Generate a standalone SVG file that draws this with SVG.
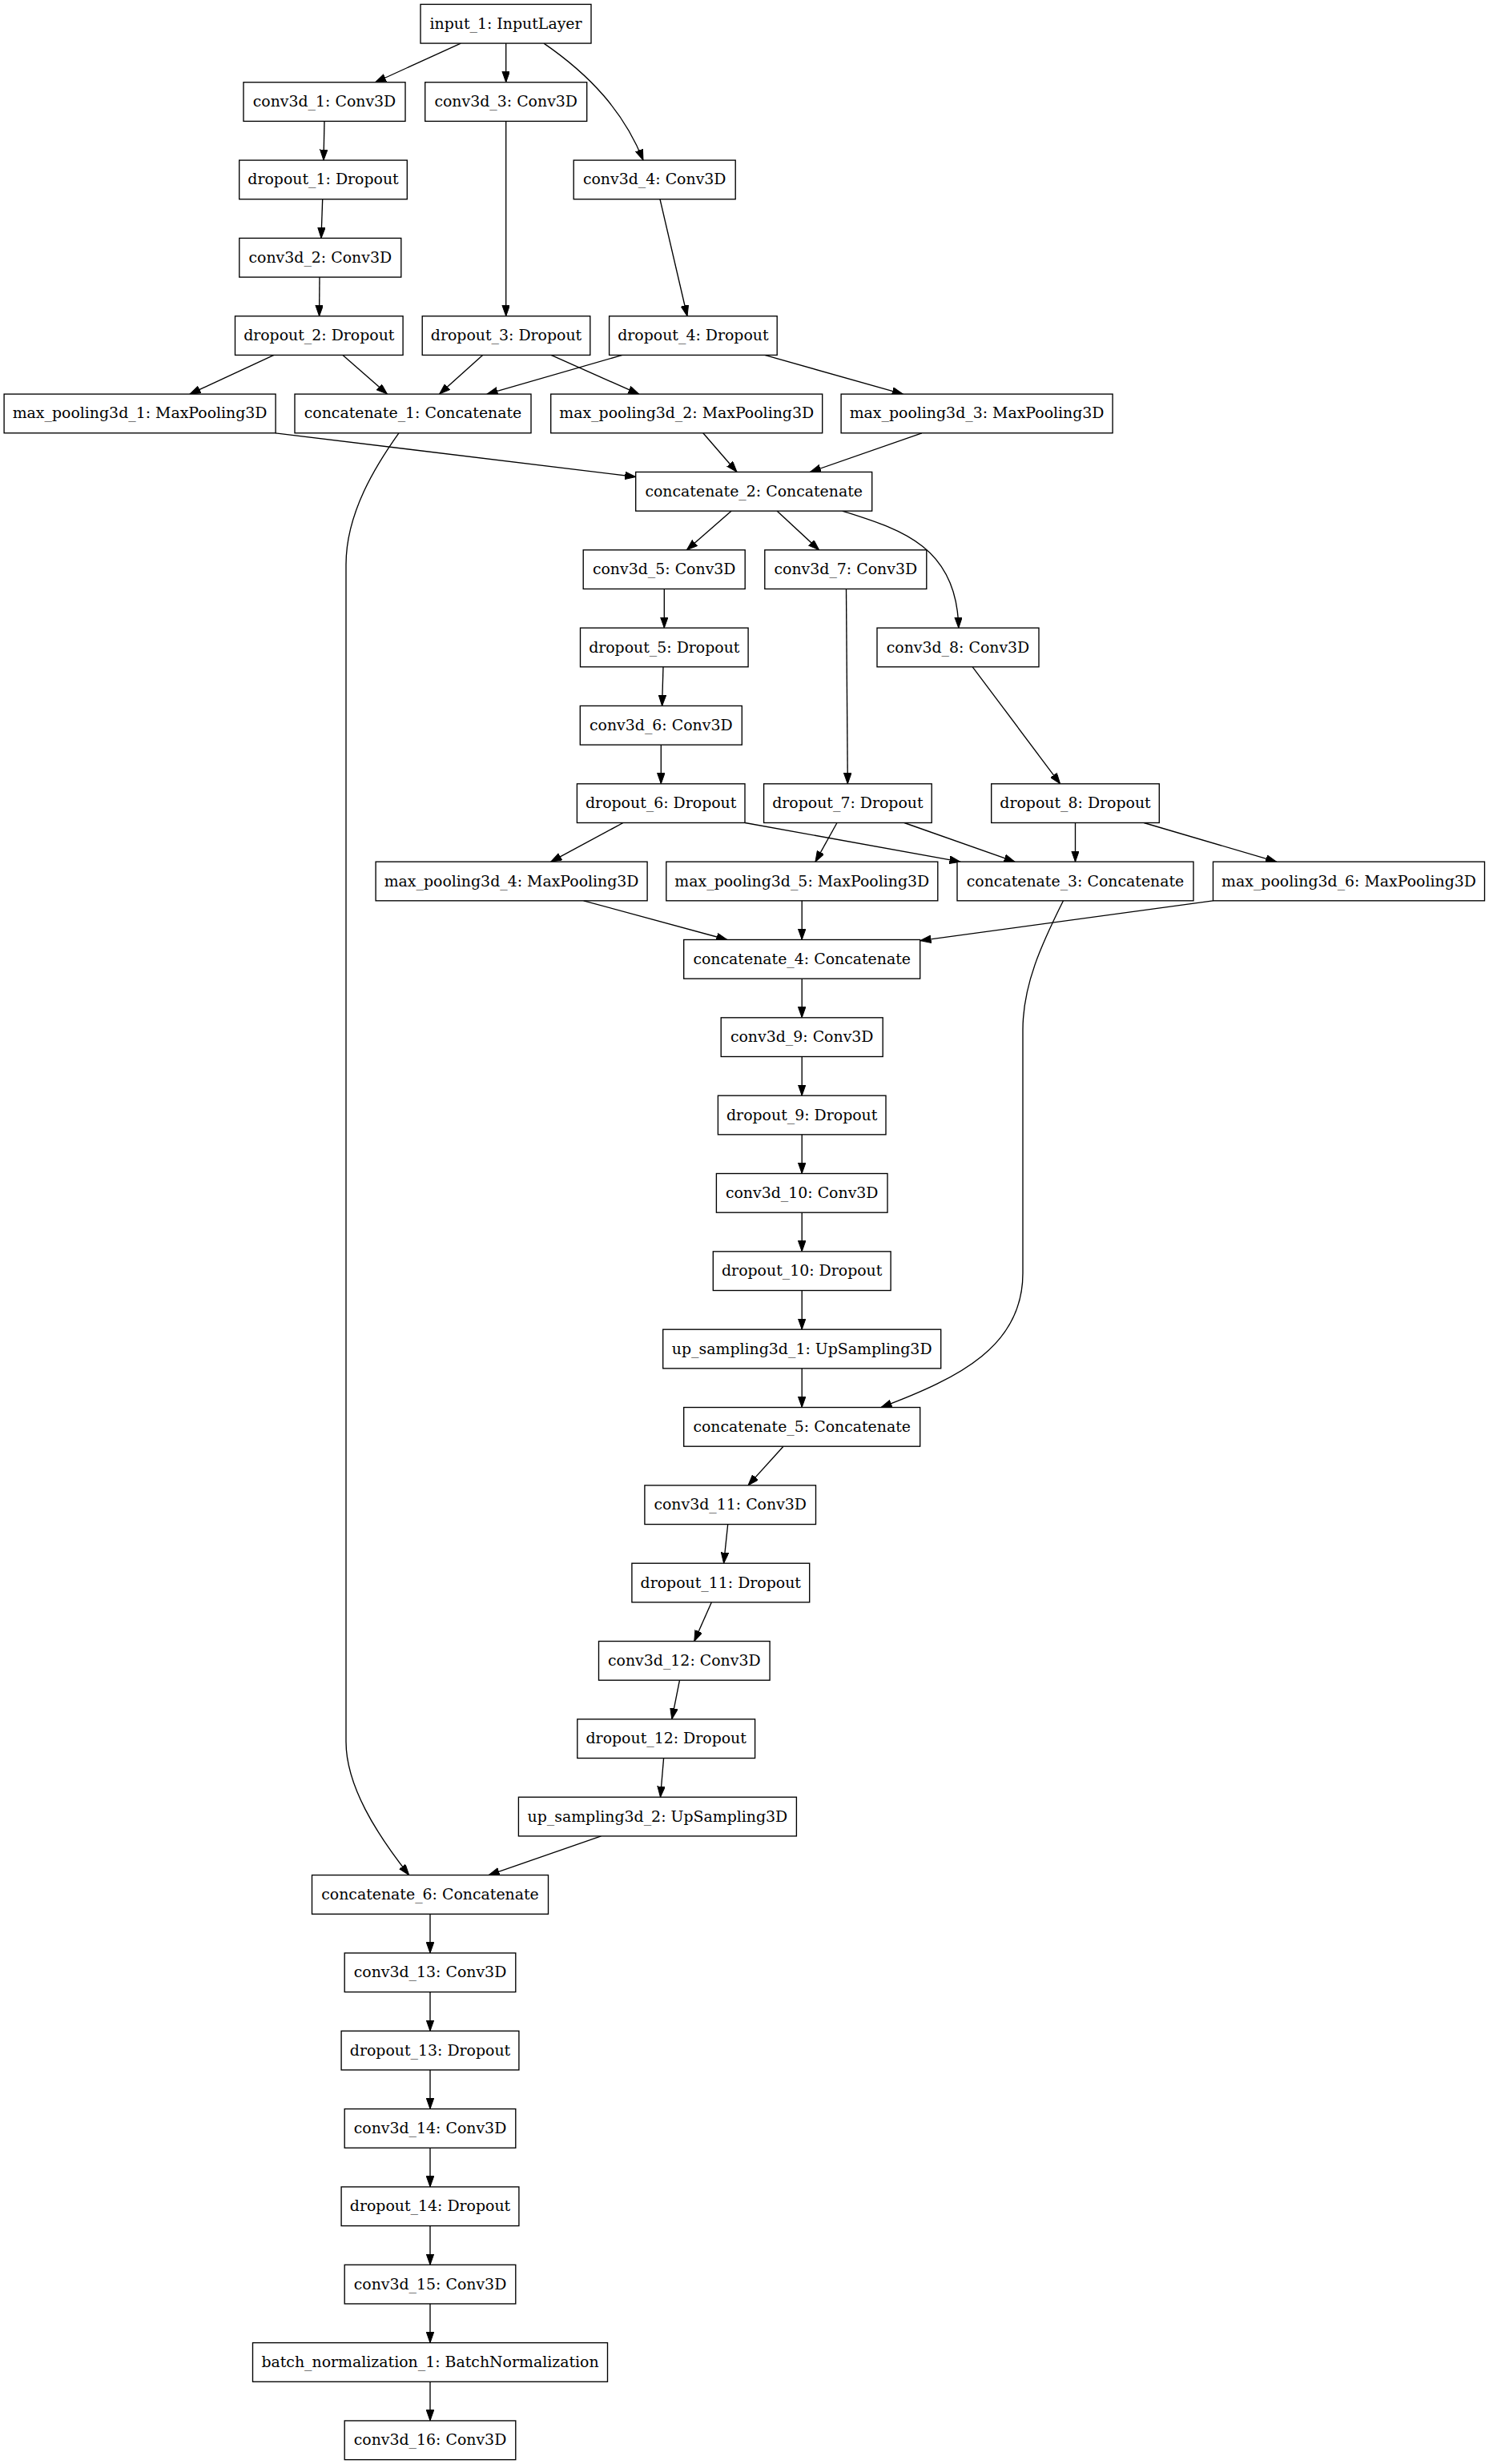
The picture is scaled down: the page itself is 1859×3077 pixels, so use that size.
<svg xmlns="http://www.w3.org/2000/svg" width="1859" height="3077" viewBox="0 0 1859 3077">
<style>
.node rect{fill:#fff;stroke:#000;stroke-width:1.35}
.node text{font-family:"DejaVu Serif","Liberation Serif",serif;font-size:18.9px;text-anchor:middle;fill:#000}
.edges path{fill:none;stroke:#000;stroke-width:1.35;marker-end:url(#ah)}
</style>
<defs>
<marker id="ah" markerWidth="14" markerHeight="10" refX="13.5" refY="4.75" orient="auto" markerUnits="userSpaceOnUse"><path d="M0,0 L13.5,4.75 L0,9.5 z" fill="#000" stroke="#000" stroke-width="1"/></marker>
</defs>
<rect x="0" y="0" width="1859" height="3077" fill="#fff"/>
<g class="edges" id="connectors">
<path d="M575.3,54.1 L468.6,102.75"/>
<path d="M631.7,54.1 L631.7,102.75"/>
<path d="M679,54.1 C737,94 779,140 803,200.09"/>
<path d="M405,151.4 L404,200.09"/>
<path d="M402.7,248.75 L401,297.43"/>
<path d="M399,346.1 L398.6,394.77"/>
<path d="M631.7,151.4 L631.7,394.77"/>
<path d="M824,248.75 L858,394.77"/>
<path d="M342,443.4 L237,492.11"/>
<path d="M428,443.4 L483.4,492.11"/>
<path d="M602.6,443.4 L548.6,492.11"/>
<path d="M688,443.4 L797.7,492.11"/>
<path d="M777,443.4 L608,492.11"/>
<path d="M954.7,443.4 L1127.3,492.11"/>
<path d="M344,540.8 L793.7,595.5"/>
<path d="M877.8,540.8 L920,589.45"/>
<path d="M1150.9,540.8 L1011.4,589.45"/>
<path d="M497.9,540.8 C470,580 432,640 432,705 L432,2175 C432,2230 470,2290 510.7,2341.57"/>
<path d="M913.2,638.1 L857.4,686.79"/>
<path d="M970,638.1 L1022.6,686.79"/>
<path d="M1051.6,638.1 C1120,660 1195,680 1196.8,784.13"/>
<path d="M829.3,735.45 L829.3,784.13"/>
<path d="M828,832.8 L826.6,881.47"/>
<path d="M825.3,930.1 L825.3,978.81"/>
<path d="M1056.5,735.45 L1058.3,978.81"/>
<path d="M1214.2,832.8 L1323.6,978.81"/>
<path d="M778,1027.5 L687.8,1076.15"/>
<path d="M930.2,1027.5 L1199,1076.15"/>
<path d="M1045,1027.5 L1018,1076.15"/>
<path d="M1129,1027.5 L1267,1076.15"/>
<path d="M1342.5,1027.5 L1342.5,1076.15"/>
<path d="M1428.2,1027.5 L1593.7,1076.15"/>
<path d="M728.6,1124.8 L907.9,1173.49"/>
<path d="M1001.2,1124.8 L1001.2,1173.49"/>
<path d="M1514.3,1124.8 L1149,1174.6"/>
<path d="M1327.5,1124.8 C1300,1180 1277,1230 1277,1286 L1277,1590 C1277,1680 1200,1720 1100,1757.53"/>
<path d="M1001.2,1222.15 L1001.2,1270.83"/>
<path d="M1001.2,1319.5 L1001.2,1368.17"/>
<path d="M1001.2,1416.8 L1001.2,1465.51"/>
<path d="M1001.2,1514.2 L1001.2,1562.85"/>
<path d="M1001.2,1611.5 L1001.2,1660.19"/>
<path d="M1001.2,1708.85 L1001.2,1757.53"/>
<path d="M978,1806.2 L934,1854.87"/>
<path d="M908.7,1903.5 L903.6,1952.21"/>
<path d="M888.3,2000.9 L866.8,2049.55"/>
<path d="M848.5,2098.2 L838.8,2146.89"/>
<path d="M828.6,2195.55 L824.5,2244.23"/>
<path d="M750.5,2292.9 L610.2,2341.57"/>
<path d="M537,2390.2 L537,2438.91"/>
<path d="M537,2487.6 L537,2536.25"/>
<path d="M537,2584.9 L537,2633.59"/>
<path d="M537,2682.25 L537,2730.93"/>
<path d="M537,2779.6 L537,2828.27"/>
<path d="M537,2876.9 L537,2925.61"/>
<path d="M537,2974.3 L537,3022.95"/>
</g>
<g id="input_1" class="node"><rect x="525" y="5.41" width="213" height="48.67"/><text x="631.5" y="35.7">input_1: InputLayer</text></g>
<g id="conv3d_1" class="node"><rect x="304" y="102.75" width="202" height="48.67"/><text x="405" y="133">conv3d_1: Conv3D</text></g>
<g id="conv3d_3" class="node"><rect x="530.7" y="102.75" width="202" height="48.67"/><text x="631.7" y="133">conv3d_3: Conv3D</text></g>
<g id="dropout_1" class="node"><rect x="298.7" y="200.09" width="209.6" height="48.67"/><text x="403.5" y="230.4">dropout_1: Dropout</text></g>
<g id="conv3d_4" class="node"><rect x="716.2" y="200.09" width="202" height="48.67"/><text x="817.2" y="230.4">conv3d_4: Conv3D</text></g>
<g id="conv3d_2" class="node"><rect x="298.8" y="297.43" width="202" height="48.67"/><text x="399.8" y="327.8">conv3d_2: Conv3D</text></g>
<g id="dropout_2" class="node"><rect x="293.5" y="394.77" width="209.6" height="48.67"/><text x="398.3" y="425.1">dropout_2: Dropout</text></g>
<g id="dropout_3" class="node"><rect x="527.2" y="394.77" width="209.6" height="48.67"/><text x="632" y="425.1">dropout_3: Dropout</text></g>
<g id="dropout_4" class="node"><rect x="760.6" y="394.77" width="209.6" height="48.67"/><text x="865.4" y="425.1">dropout_4: Dropout</text></g>
<g id="max_pooling3d_1" class="node"><rect x="5.1" y="492.11" width="339" height="48.67"/><text x="174.6" y="522.4">max_pooling3d_1: MaxPooling3D</text></g>
<g id="concatenate_1" class="node"><rect x="368" y="492.11" width="295" height="48.67"/><text x="515.5" y="522.4">concatenate_1: Concatenate</text></g>
<g id="max_pooling3d_2" class="node"><rect x="687.7" y="492.11" width="339" height="48.67"/><text x="857.2" y="522.4">max_pooling3d_2: MaxPooling3D</text></g>
<g id="max_pooling3d_3" class="node"><rect x="1050.1" y="492.11" width="339" height="48.67"/><text x="1219.6" y="522.4">max_pooling3d_3: MaxPooling3D</text></g>
<g id="concatenate_2" class="node"><rect x="793.7" y="589.45" width="295" height="48.67"/><text x="941.2" y="619.8">concatenate_2: Concatenate</text></g>
<g id="conv3d_5" class="node"><rect x="728.2" y="686.79" width="202" height="48.67"/><text x="829.2" y="717.1">conv3d_5: Conv3D</text></g>
<g id="conv3d_7" class="node"><rect x="954.8" y="686.79" width="202" height="48.67"/><text x="1055.8" y="717.1">conv3d_7: Conv3D</text></g>
<g id="dropout_5" class="node"><rect x="724.5" y="784.13" width="209.6" height="48.67"/><text x="829.3" y="814.5">dropout_5: Dropout</text></g>
<g id="conv3d_8" class="node"><rect x="1095" y="784.13" width="202" height="48.67"/><text x="1196" y="814.5">conv3d_8: Conv3D</text></g>
<g id="conv3d_6" class="node"><rect x="724.3" y="881.47" width="202" height="48.67"/><text x="825.3" y="911.8">conv3d_6: Conv3D</text></g>
<g id="dropout_6" class="node"><rect x="720.4" y="978.81" width="209.6" height="48.67"/><text x="825.2" y="1009.1">dropout_6: Dropout</text></g>
<g id="dropout_7" class="node"><rect x="953.6" y="978.81" width="209.6" height="48.67"/><text x="1058.4" y="1009.1">dropout_7: Dropout</text></g>
<g id="dropout_8" class="node"><rect x="1237.7" y="978.81" width="209.6" height="48.67"/><text x="1342.5" y="1009.1">dropout_8: Dropout</text></g>
<g id="max_pooling3d_4" class="node"><rect x="469.1" y="1076.15" width="339" height="48.67"/><text x="638.6" y="1106.5">max_pooling3d_4: MaxPooling3D</text></g>
<g id="max_pooling3d_5" class="node"><rect x="831.8" y="1076.15" width="339" height="48.67"/><text x="1001.3" y="1106.5">max_pooling3d_5: MaxPooling3D</text></g>
<g id="concatenate_3" class="node"><rect x="1195" y="1076.15" width="295" height="48.67"/><text x="1342.5" y="1106.5">concatenate_3: Concatenate</text></g>
<g id="max_pooling3d_6" class="node"><rect x="1514.5" y="1076.15" width="339" height="48.67"/><text x="1684" y="1106.5">max_pooling3d_6: MaxPooling3D</text></g>
<g id="concatenate_4" class="node"><rect x="853.7" y="1173.49" width="295" height="48.67"/><text x="1001.2" y="1203.8">concatenate_4: Concatenate</text></g>
<g id="conv3d_9" class="node"><rect x="900.2" y="1270.83" width="202" height="48.67"/><text x="1001.2" y="1301.2">conv3d_9: Conv3D</text></g>
<g id="dropout_9" class="node"><rect x="896.4" y="1368.17" width="209.6" height="48.67"/><text x="1001.2" y="1398.5">dropout_9: Dropout</text></g>
<g id="conv3d_10" class="node"><rect x="894.4" y="1465.51" width="213.6" height="48.67"/><text x="1001.2" y="1495.8">conv3d_10: Conv3D</text></g>
<g id="dropout_10" class="node"><rect x="890.3" y="1562.85" width="221.8" height="48.67"/><text x="1001.2" y="1593.2">dropout_10: Dropout</text></g>
<g id="up_sampling3d_1" class="node"><rect x="827.7" y="1660.19" width="347" height="48.67"/><text x="1001.2" y="1690.5">up_sampling3d_1: UpSampling3D</text></g>
<g id="concatenate_5" class="node"><rect x="853.7" y="1757.53" width="295" height="48.67"/><text x="1001.2" y="1787.9">concatenate_5: Concatenate</text></g>
<g id="conv3d_11" class="node"><rect x="804.9" y="1854.87" width="213.6" height="48.67"/><text x="911.7" y="1885.2">conv3d_11: Conv3D</text></g>
<g id="dropout_11" class="node"><rect x="788.9" y="1952.21" width="221.8" height="48.67"/><text x="899.8" y="1982.5">dropout_11: Dropout</text></g>
<g id="conv3d_12" class="node"><rect x="747.5" y="2049.55" width="213.6" height="48.67"/><text x="854.3" y="2079.9">conv3d_12: Conv3D</text></g>
<g id="dropout_12" class="node"><rect x="720.8" y="2146.89" width="221.8" height="48.67"/><text x="831.7" y="2177.2">dropout_12: Dropout</text></g>
<g id="up_sampling3d_2" class="node"><rect x="647.4" y="2244.23" width="347" height="48.67"/><text x="820.9" y="2274.6">up_sampling3d_2: UpSampling3D</text></g>
<g id="concatenate_6" class="node"><rect x="389.5" y="2341.57" width="295" height="48.67"/><text x="537" y="2371.9">concatenate_6: Concatenate</text></g>
<g id="conv3d_13" class="node"><rect x="430.2" y="2438.91" width="213.6" height="48.67"/><text x="537" y="2469.2">conv3d_13: Conv3D</text></g>
<g id="dropout_13" class="node"><rect x="426.1" y="2536.25" width="221.8" height="48.67"/><text x="537" y="2566.6">dropout_13: Dropout</text></g>
<g id="conv3d_14" class="node"><rect x="430.2" y="2633.59" width="213.6" height="48.67"/><text x="537" y="2663.9">conv3d_14: Conv3D</text></g>
<g id="dropout_14" class="node"><rect x="426.1" y="2730.93" width="221.8" height="48.67"/><text x="537" y="2761.3">dropout_14: Dropout</text></g>
<g id="conv3d_15" class="node"><rect x="430.2" y="2828.27" width="213.6" height="48.67"/><text x="537" y="2858.6">conv3d_15: Conv3D</text></g>
<g id="batch_normalization_1" class="node"><rect x="315.5" y="2925.61" width="443" height="48.67"/><text x="537" y="2955.9">batch_normalization_1: BatchNormalization</text></g>
<g id="conv3d_16" class="node"><rect x="430.2" y="3022.95" width="213.6" height="48.67"/><text x="537" y="3053.3">conv3d_16: Conv3D</text></g>
</svg>
